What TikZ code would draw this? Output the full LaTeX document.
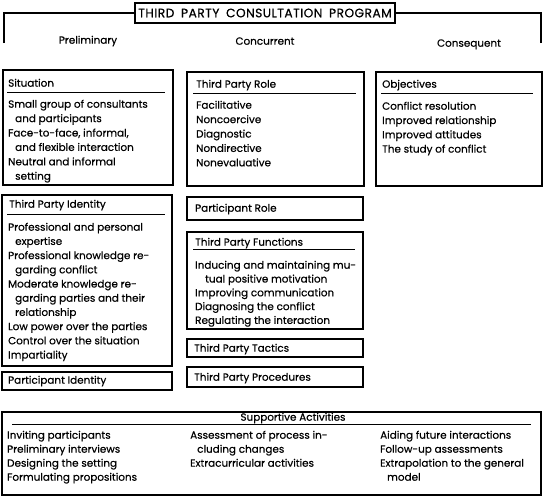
\documentclass[tikz,border=0pt]{standalone}
\usepackage{fontspec}
\setmainfont{Poppins}[FakeBold=0.5]
\usetikzlibrary{calc}
\newcommand{\ind}{\hspace*{7pt}}
\newcommand{\indd}{\hspace*{10pt}}
\begin{document}
\begin{tikzpicture}[x=1pt,y=-1pt,
  box/.style={draw, line width=1.2pt, anchor=north west, inner sep=0pt, outer sep=0pt},
  item/.style={anchor=west, inner sep=0pt, text height=7.4pt, text depth=2pt, font=\fontsize{10.4}{12}\selectfont},
  head/.style={item},
  rule/.style={line width=0.9pt},
  ]
\useasboundingbox (0,0) rectangle (545,499);

% title and bracket
\node[draw, line width=1.2pt, minimum width=260pt, minimum height=20pt, inner sep=0pt,
  font=\fontsize{12.2}{14}\selectfont\addfontfeature{LetterSpace=4}] (title) at (265,13)
  {THIRD\hspace{0.55em}PARTY\hspace{0.55em}CONSULTATION\hspace{0.55em}PROGRAM};
\coordinate (bl) at (4,43);
\coordinate (br) at (541,43);
\draw[line width=1.2pt] (bl) |- (title.west);
\draw[line width=1.2pt] (br) |- (title.east);

\node[item, anchor=center] (h1) at (88,41) {Preliminary};
\node[item, anchor=center] (h2) at (265,42) {Concurrent};
\node[item, anchor=center] (h3) at (469,44) {Consequent};

% boxes
\node[box, minimum width=170pt, minimum height=115pt] (sit) at (3,70) {};
\node[box, minimum width=177pt, minimum height=114pt] (role) at (187,72) {};
\node[box, minimum width=166pt, minimum height=114pt] (obj) at (376,72) {};
\node[box, minimum width=170pt, minimum height=171pt] (ident) at (2,195) {};
\node[box, minimum width=170pt, minimum height=18pt] (pident) at (2,372) {};
\node[box, minimum width=176pt, minimum height=23pt] (prole) at (187,197) {};
\node[box, minimum width=176pt, minimum height=97pt] (func) at (187,232) {};
\node[box, minimum width=176pt, minimum height=18pt] (tact) at (187,339) {};
\node[box, minimum width=176pt, minimum height=20pt] (proc) at (187,367) {};
\node[box, minimum width=539pt, minimum height=83pt] (supp) at (2,412) {};

% headings
\node[head] (sitT) at (8,84) {Situation};
\node[head] (roleT) at (196,85) {Third Party Role};
\node[head] (objT) at (382,85) {Objectives};
\node[head] (identT) at (9,205) {Third Party Identity};
\node[head] (pidentT) at (8,381) {Participant Identity};
\node[head] (proleT) at (195,209) {Participant Role};
\node[head] (funcT) at (195,243) {Third Party Functions};
\node[head] (tactT) at (194,349) {Third Party Tactics};
\node[head] (procT) at (194,378) {Third Party Procedures};
\node[head, anchor=center] (suppT) at (293,418) {Supportive Activities};

% rules
\draw[rule] ($(sit.north west)+(4,22)$) -- ($(sit.north east)+(-8,22)$);
\draw[rule] ($(role.north west)+(6,21)$) -- ($(role.north east)+(-8,21)$);
\draw[rule] ($(obj.north west)+(5,21)$) -- ($(obj.north east)+(-9,21)$);
\draw[rule] ($(ident.north west)+(5,19)$) -- ($(ident.north east)+(-7,19)$);
\draw[rule] ($(func.north west)+(6,17)$) -- ($(func.north east)+(-8,17)$);
\draw[rule] ($(supp.north west)+(10,12)$) -- ($(supp.north east)+(-10,12)$);

% lists
\foreach \t [count=\i from 0] in {Small group of consultants, \ind and participants, {Face-to-face, informal,}, \ind and flexible interaction, Neutral and informal, \ind setting}
  \node[item] (sit-\i) at (8,105+14.4*\i) {\t};
\foreach \t [count=\i from 0] in {Facilitative, Noncoercive, Diagnostic, Nondirective, Nonevaluative}
  \node[item] (role-\i) at (196,106+14.4*\i) {\t};
\foreach \t [count=\i from 0] in {Conflict resolution, Improved relationship, Improved attitudes, The study of conflict}
  \node[item] (obj-\i) at (382,107+14.3*\i) {\t};
\foreach \t [count=\i from 0] in {Professional and personal, \ind expertise, Professional knowledge re-, \ind garding conflict, Moderate knowledge re-, \ind garding parties and their, \ind relationship, Low power over the parties, Control over the situation, Impartiality}
  \node[item] (ident-\i) at (8,228+14.2*\i) {\t};
\foreach \t [count=\i from 0] in {Inducing and maintaining mu-, \indd tual positive motivation, Improving communication, Diagnosing the conflict, Regulating the interaction}
  \node[item] (func-\i) at (195,266+13.8*\i) {\t};
\foreach \t [count=\i from 0] in {Inviting participants, Preliminary interviews, Designing the setting, Formulating propositions}
  \node[item] (sa-\i) at (7,436+14*\i) {\t};
\foreach \t [count=\i from 0] in {Assessment of process in-, \ind cluding changes, Extracurricular activities}
  \node[item] (sb-\i) at (190,436+14*\i) {\t};
\foreach \t [count=\i from 0] in {Aiding future interactions, Follow-up assessments, Extrapolation to the general, \ind model}
  \node[item] (sc-\i) at (380,436+14*\i) {\t};
\end{tikzpicture}
\end{document}
